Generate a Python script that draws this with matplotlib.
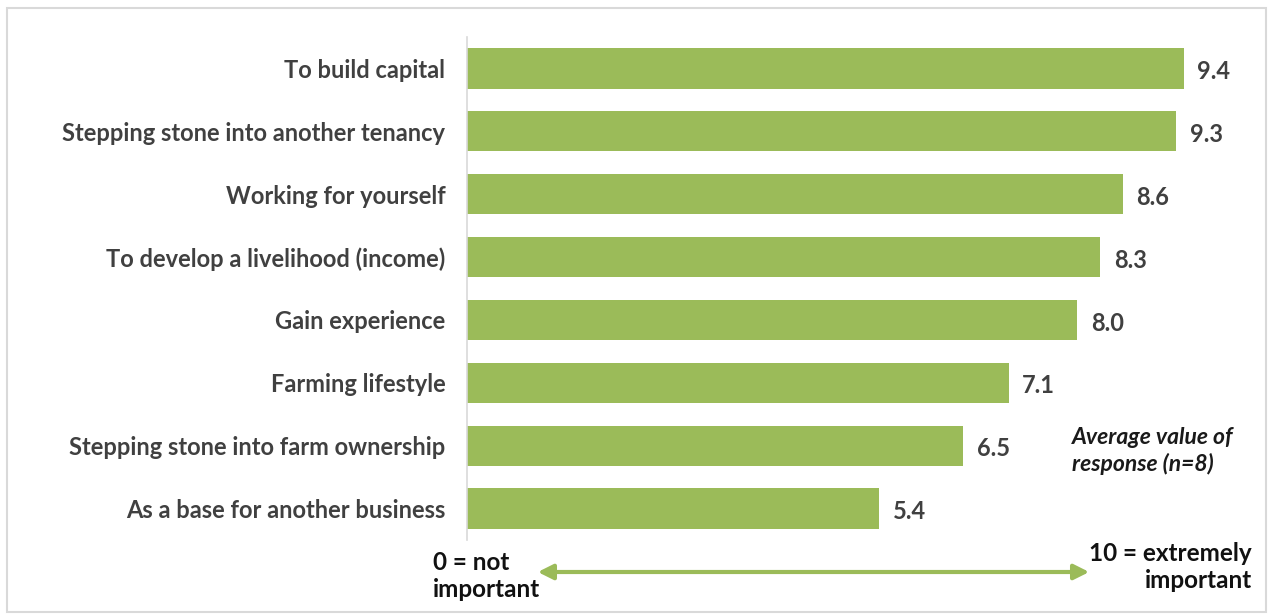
import matplotlib.pyplot as plt
from matplotlib.patches import Rectangle, FancyArrowPatch

categories = [
    "To build capital",
    "Stepping stone into another tenancy",
    "Working for yourself",
    "To develop a livelihood (income)",
    "Gain experience",
    "Farming lifestyle",
    "Stepping stone into farm ownership",
    "As a base for another business",
]
values = [9.4, 9.3, 8.6, 8.3, 8.0, 7.1, 6.5, 5.4]

W, H = 1269, 615
bar_color = "#9BBB59"
text_color = "#404040"

plt.rcParams['font.family'] = ['Lato', 'DejaVu Sans']

fig = plt.figure(figsize=(W / 100, H / 100), dpi=100)
fig.patch.set_facecolor("white")

# outer frame
fig.patches.append(Rectangle((7 / W, 1 - 612 / H), (1266 - 7) / W, (612 - 8) / H,
                             transform=fig.transFigure, fill=False,
                             edgecolor="#D9D9D9", linewidth=1.5))

ax = fig.add_axes([467.5 / W, 1 - 540 / H, (1229.5 - 467.5) / W, (540 - 37) / H])
pos = list(range(len(categories)))
ax.barh(pos, values, height=0.64, color=bar_color)
ax.set_xlim(0, 10)
ax.set_ylim(len(categories) - 0.5, -0.5)

for s in ["top", "right", "bottom"]:
    ax.spines[s].set_visible(False)
ax.spines["left"].set_color("#D9D9D9")
ax.spines["left"].set_linewidth(1.2)
ax.set_xticks([])
ax.set_yticks(pos)
ax.set_yticklabels(categories, fontsize=17, fontweight="bold", color=text_color)
ax.tick_params(axis="y", length=0, pad=16)

for p, v in zip(pos, values):
    ax.text(v + 0.18, p + 0.05, f"{v:.1f}", va="center", ha="left",
            fontsize=17, fontweight="bold", color=text_color)

fig.text(1072 / W, 1 - 451 / H, "Average value of\nresponse (n=8)", ha="left", va="center",
         fontsize=16.5, fontweight="bold", fontstyle="italic", color="#1a1a1a", linespacing=1.25)
fig.text(433 / W, 1 - 576 / H, "0 = not\nimportant", ha="left", va="center",
         fontsize=17.5, fontweight="bold", color="#111111", linespacing=1.2)
fig.text(1252 / W, 1 - 567 / H, "10 = extremely\nimportant", ha="right", va="center",
         fontsize=17.5, fontweight="bold", color="#111111", linespacing=1.2, multialignment="right")

arrow = FancyArrowPatch((535 / W, 1 - 572 / H), (1092 / W, 1 - 572 / H),
                        transform=fig.transFigure, arrowstyle="<|-|>,head_length=9,head_width=4.5",
                        color=bar_color, linewidth=3, mutation_scale=1)
fig.patches.append(arrow)

fig.savefig("out.png", dpi=100)
